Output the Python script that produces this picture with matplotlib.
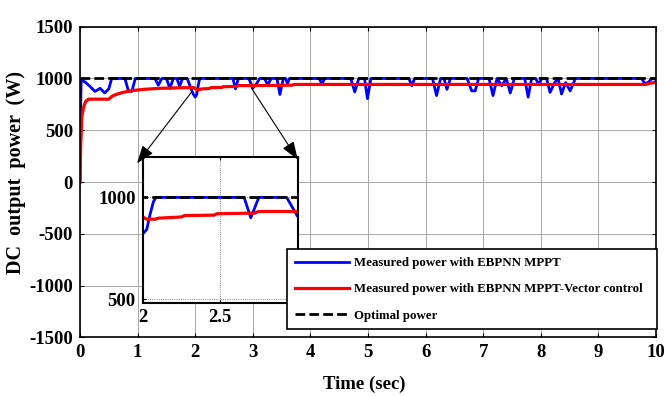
import matplotlib.pyplot as plt
from matplotlib.lines import Line2D

plt.rcParams['font.family'] = ['Liberation Serif', 'DejaVu Serif']
plt.rcParams['font.weight'] = 'bold'
plt.rcParams['axes.unicode_minus'] = False

# time (sec) / power (W)
blue_t = [0, 0.012, 0.02, 0.09, 0.17, 0.26, 0.35, 0.43, 0.50, 0.55,
          0.78, 0.84, 0.90, 0.96, 1.30, 1.36, 1.42, 1.50, 1.56, 1.62,
          1.68, 1.73, 1.78, 1.86, 1.93, 1.97, 2.0, 2.026, 2.047, 2.069,
          2.086, 2.655, 2.698, 2.75, 2.93, 3.0, 3.06, 3.12, 3.20, 3.26,
          3.32, 3.42, 3.47, 3.53, 3.57, 3.60, 3.64, 4.15, 4.20, 4.25,
          4.70, 4.77, 4.84, 4.94, 4.99, 5.05, 5.71, 5.76, 5.81, 6.12,
          6.19, 6.26, 6.32, 6.37, 6.43, 6.72, 6.80, 6.86, 6.92, 7.10,
          7.17, 7.24, 7.32, 7.40, 7.47, 7.54, 7.72, 7.78, 7.84, 7.91,
          7.96, 8.02, 8.10, 8.16, 8.24, 8.30, 8.36, 8.43, 8.51, 8.60,
          9.75, 9.80, 9.86, 9.93, 10.0]
blue_p = [0, 700, 985, 965, 925, 875, 905, 860, 900, 1000,
          1000, 880, 875, 1000, 1000, 935, 1000, 1000, 905, 1000,
          1000, 925, 1000, 1000, 900, 845, 820, 843, 915, 979,
          1000, 1000, 900, 1000, 1000, 907, 945, 1000, 1000, 940,
          1000, 1000, 845, 1000, 1000, 950, 1000, 1000, 950, 1000,
          1000, 870, 1000, 1000, 805, 1000, 1000, 930, 1000, 1000,
          835, 1000, 1000, 895, 1000, 1000, 880, 880, 1000, 1000,
          835, 1000, 930, 1000, 860, 1000, 1000, 820, 1000, 1000,
          945, 1000, 1000, 865, 960, 1000, 850, 960, 880, 1000,
          1000, 955, 960, 1000, 990]

red_t = [0, 0.012, 0.03, 0.06, 0.10, 0.15, 0.50, 0.56, 0.65, 0.75,
         0.93, 1.16, 1.39, 1.74, 1.97, 2.0, 2.026, 2.08, 2.10, 2.25,
         2.27, 2.46, 2.48, 2.72, 2.75, 3.0, 3.68, 3.72, 9.82, 9.90,
         10.0]
red_p = [0, 350, 620, 720, 780, 800, 800, 830, 850, 866,
         885, 897, 905, 910, 912, 904, 893, 893, 898, 904,
         911, 913, 920, 923, 931, 931, 935, 942, 942, 955,
         962]

opt_t = [0, 10]
opt_p = [1000, 1000]

x_ticks = [0, 1, 2, 3, 4, 5, 6, 7, 8, 9, 10]
y_ticks = [-1500, -1000, -500, 0, 500, 1000, 1500]
zoom_x = [2, 2.5, 3]
zoom_y = [500, 1000]
labels = ["Measured power with EBPNN MPPT",
          "Measured power with EBPNN MPPT-Vector control",
          "Optimal power"]

fig = plt.figure(figsize=(6.65, 3.96), dpi=100)
ax = fig.add_axes([0.1203, 0.1482, 0.8662, 0.7844])


def draw(a):
    a.plot(blue_t, blue_p, color='#0000ff', lw=2.0)
    a.plot(red_t, red_p, color='#ff0000', lw=2.3)
    a.plot(opt_t, opt_p, color='k', lw=2.0, dashes=(3.5, 1.5))


draw(ax)
ax.set_xlim(0, 10)
ax.set_ylim(-1500, 1500)
ax.set_xticks(x_ticks)
ax.set_yticks(y_ticks)
ax.grid(True, color='#a8a8a8', lw=0.7)
ax.tick_params(direction='in', top=True, right=True, length=3,
               labelsize=13.5, pad=5)
for s in ax.spines.values():
    s.set_linewidth(1.2)
ax.set_xlabel("Time (sec)", fontsize=13.5, fontweight='bold')
ax.xaxis.set_label_coords(0.493, -0.125)
ax.set_ylabel("DC  output  power  (W)", fontsize=14.5, fontweight='bold')
ax.yaxis.set_label_coords(-0.094, 0.53)

# zoomed inset
ax_in = fig.add_axes([0.2146, 0.2361, 0.2328, 0.3682])
draw(ax_in)
ax_in.set_xlim(2, 3)
ax_in.set_ylim(484, 1200)
ax_in.set_xticks(zoom_x)
ax_in.set_xticklabels(['2', '2.5', '3'])
ax_in.set_yticks(zoom_y)
ax_in.grid(True, color='#555555', lw=0.6, ls=':')
ax_in.tick_params(direction='in', top=True, right=True, length=2,
                  labelsize=13.5, pad=5)
for s in ax_in.spines.values():
    s.set_linewidth(1.5)

arrow = dict(arrowstyle='-|>,head_length=1.1,head_width=0.4', color='k',
             lw=0.8, shrinkA=0, shrinkB=0)
ax_in.annotate('', xy=(0.99, 180), xytext=(1.94, 871),
               xycoords=ax.transData, textcoords=ax.transData,
               arrowprops=arrow, annotation_clip=False)
ax_in.annotate('', xy=(3.78, 217), xytext=(2.98, 904),
               xycoords=ax.transData, textcoords=ax.transData,
               arrowprops=arrow, annotation_clip=False)

handles = [Line2D([], [], color='#0000ff', lw=2.0),
           Line2D([], [], color='#ff0000', lw=2.3),
           Line2D([], [], color='k', lw=2.0, dashes=(3.5, 1.5))]
leg = fig.legend(handles, labels, loc='lower left',
                 bbox_to_anchor=(0.4316, 0.168, 0.5564, 0.2),
                 mode='expand', borderaxespad=0, fontsize=9.3,
                 handlelength=4.2, handletextpad=0.4, borderpad=0.6,
                 labelspacing=1.1, fancybox=False, framealpha=1,
                 edgecolor='k')
leg.get_frame().set_linewidth(1.2)

fig.savefig('out.png', dpi=100)
